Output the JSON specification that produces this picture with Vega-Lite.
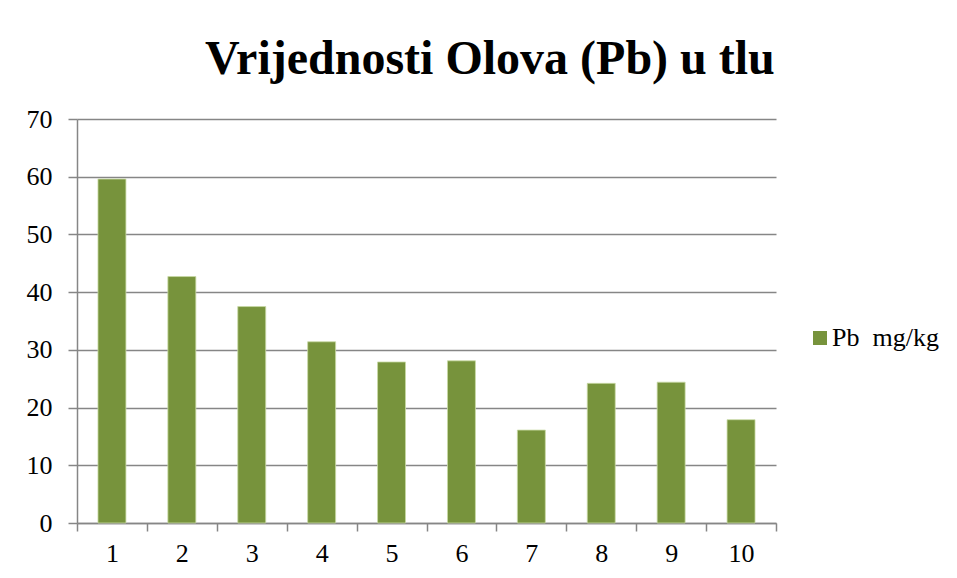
{
  "$schema": "https://vega.github.io/schema/vega-lite/v6.json",
  "width": 699,
  "height": 404,
  "autosize": {"type": "none"},
  "padding": {"left": 77, "top": 119, "right": 181, "bottom": 55},
  "background": "white",
  "title": {
    "text": "Vrijednosti Olova (Pb) u tlu",
    "font": "Liberation Serif",
    "fontSize": 48,
    "fontWeight": "bold",
    "color": "#000000",
    "anchor": "start",
    "frame": "group",
    "dx": 128,
    "baseline": "alphabetic",
    "offset": -16
  },
  "data": {
    "values": [
      {"uzorak": "1", "pb": 59.6},
      {"uzorak": "2", "pb": 42.7},
      {"uzorak": "3", "pb": 37.5},
      {"uzorak": "4", "pb": 31.4},
      {"uzorak": "5", "pb": 27.9},
      {"uzorak": "6", "pb": 28.1},
      {"uzorak": "7", "pb": 16.1},
      {"uzorak": "8", "pb": 24.2},
      {"uzorak": "9", "pb": 24.4},
      {"uzorak": "10", "pb": 17.9}
    ]
  },
  "mark": {"type": "bar", "width": {"band": 0.4}, "stroke": "#c9dba6", "strokeWidth": 0.8},
  "encoding": {
    "x": {
      "field": "uzorak",
      "type": "ordinal",
      "sort": null,
      "scale": {"paddingInner": 0, "paddingOuter": 0},
      "axis": {
        "title": null,
        "labelAngle": 0,
        "labelFont": "Liberation Serif",
        "labelFontSize": 26,
        "labelColor": "#000000",
        "labelPadding": 9,
        "tickBand": "extent",
        "tickSize": 8,
        "tickColor": "#868686",
        "tickWidth": 1.5,
        "domainColor": "#868686",
        "domainWidth": 1.5,
        "grid": false
      }
    },
    "y": {
      "field": "pb",
      "type": "quantitative",
      "scale": {"domain": [0, 70], "nice": false},
      "axis": {
        "title": null,
        "values": [0, 10, 20, 30, 40, 50, 60, 70],
        "labelFont": "Liberation Serif",
        "labelFontSize": 26,
        "labelColor": "#000000",
        "labelPadding": 16,
        "tickSize": 9,
        "tickColor": "#868686",
        "tickWidth": 1.5,
        "domainColor": "#868686",
        "domainWidth": 1.5,
        "grid": true,
        "gridColor": "#868686",
        "gridWidth": 1.5
      }
    },
    "color": {
      "datum": "Pb\u00a0 mg/kg",
      "type": "nominal",
      "scale": {"range": ["#77933C"]},
      "legend": {
        "title": null,
        "orient": "none",
        "legendX": 730,
        "legendY": 206,
        "padding": 0,
        "symbolType": "square",
        "symbolSize": 196,
        "symbolStrokeWidth": 0,
        "labelFont": "Liberation Serif",
        "labelFontSize": 26,
        "labelColor": "#000000",
        "labelOffset": -1
      }
    }
  },
  "config": {"view": {"stroke": null}}
}
